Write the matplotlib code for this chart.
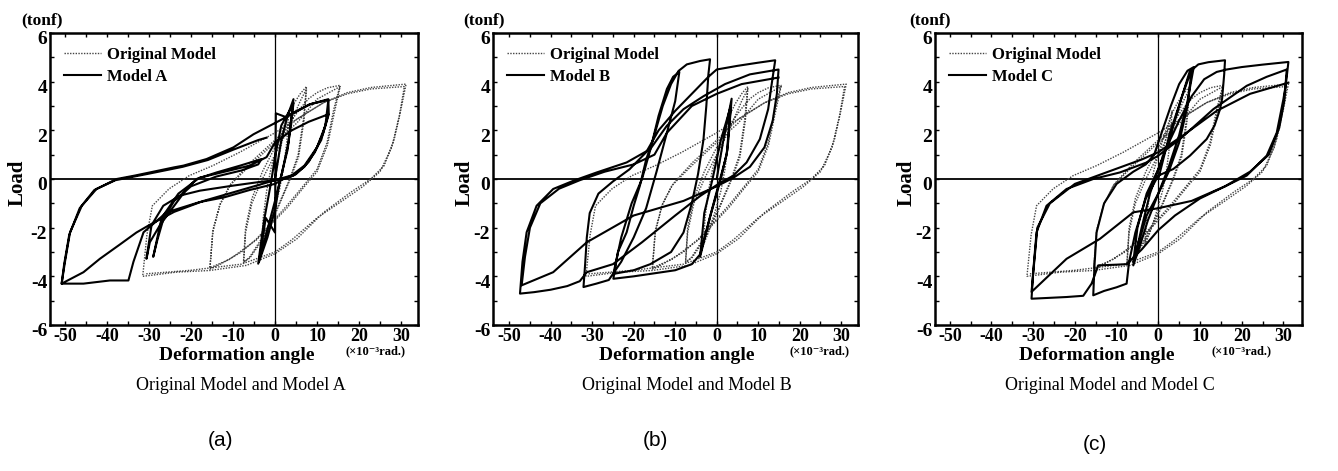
import matplotlib
matplotlib.use("Agg")
import matplotlib.pyplot as plt
from matplotlib.lines import Line2D
from matplotlib.ticker import MultipleLocator
import matplotlib.transforms as mtransforms

plt.rcParams["axes.unicode_minus"] = False

# ---------------- data ----------------
x_ticks = [-50, -40, -30, -20, -10, 0, 10, 20, 30]
y_ticks = [-6, -4, -2, 0, 2, 4, 6]
panel_letters = ["(a)", "(b)", "(c)"]
model_names = ["Model A", "Model B", "Model C"]

orig_x = [0, 1, 2.2, 3.3, 2.8, 2.0, 1.0, -0.5, -2, -3.2, -2.8, -2.0, -1, 0.5, 2, 3.3,
          4.5, 6, 7.5, 6.8, 5.5, 3.5, 0.5, -3, -6, -7.5, -7, -5.5, -3, 0, 3, 6, 7.5,
          6.9, 5.6, 3.4, 0.4, -3, -6, -7.5,
          -7, -5.5, -3, 0, 3, 6, 8, 10, 12.5, 15.5,
          14, 12.4, 10, 6.8, 2.8, 0, -4.4, -8, -10.8, -13, -15.5,
          -14.8, -13.2, -10.8, -6, 0, 5.2, 10, 15.5,
          14.1, 12.5, 10, 6.8, 2.8, 0, -4.4, -10.8, -15.5,
          -14.8, -13, -10.5, -6, 0, 5.2, 11.6, 17.2, 22.8, 31.2,
          30, 28.4, 26, 22.8, 18, 11.6, 5.2, 0, -6.8, -15.6, -23.6, -31.5,
          -30.5, -29.2, -25.2, -20.4, -14.8, -8.4, 0, 5.2, 11.6, 17.2, 22.8, 30.8,
          29.6, 27.8, 25, 21, 16, 10, 4, 0, -8, -20, -31]
orig_y = [0, 1.0, 2.0, 2.8, 1.5, 0.4, -0.5, -1.4, -2.2, -2.7, -1.6, -0.5, 0.4, 1.3, 2.1, 2.7,
          3.1, 3.5, 3.8, 2.5, 1.0, 0, -1.2, -2.4, -3.2, -3.45, -2.2, -1, 0, 1, 2.0, 3.2, 3.7,
          2.4, 0.9, -0.1, -1.3, -2.5, -3.25, -3.4,
          -2.0, -0.8, 0.3, 1.3, 2.2, 2.9, 3.3, 3.55, 3.75, 3.85,
          2.87, 1.5, 0.4, -0.27, -1.1, -1.64, -2.46, -3.0, -3.28, -3.5, -3.7,
          -2.19, -1.1, -0.27, 0.55, 1.5, 2.3, 3.28, 3.8,
          2.7, 1.4, 0.3, -0.35, -1.2, -1.7, -2.5, -3.3, -3.65,
          -2.1, -1.0, -0.2, 0.65, 1.6, 2.46, 3.14, 3.55, 3.76, 3.9,
          2.87, 1.64, 0.55, 0, -0.55, -1.37, -2.46, -3.07, -3.55, -3.76, -3.83, -4.0,
          -2.3, -1.1, -0.4, 0.14, 0.55, 1.1, 1.9, 2.46, 3.14, 3.5, 3.7, 3.8,
          2.6, 1.3, 0.3, -0.3, -0.9, -1.6, -2.5, -3.0, -3.5, -3.75, -3.9]

modelA_x = [0, 1.5, 3, 4.4, 3.2, 1.6, 0, -2, -4, -2.6, -1, 0.1, 1.5, 4.4, 3, 1, 0.1, -1.8, -3.8,
            -2.2, 0, 0.1, 0.2,
            2.5, 4.4, 8.3, 12.7, 12.8, 11.5, 9.5, 7, 4.4, 2, 0, -3.6, -9.9, -17.9, -22.6, -26.6, -29.4, -30.6,
            -29.8, -27.4, -24, -21, -18.7, -13.9, -8.3, -3.2,
            -4, -8, -14, -20, -24, -26.5, -28, -29,
            -27, -23, -18, -12, -6, -2, 0, 4, 8, 12.7,
            11, 8, 5, 2, 0, -6, -12, -18, -25.8, -31.3, -33.7, -34.9,
            -39.3, -45.6, -50.8,
            -50, -48.8, -46, -42.5, -37.7, -33.4, -29.8, -24, -21.8, -16.3, -9.9, -5.1, 0, 4.4, 8.3, 12.7,
            12, 10, 7, 4, 1, -4, -10, -17, -24, -30, -33, -37, -41.7, -45.6, -50.8,
            -50.2, -49, -46.5, -43, -38, -30, -22, -16, -10, -4, -2]
modelA_y = [0, 1.6, 2.6, 3.28, 1.5, 0.2, -0.9, -2.2, -3.48, -1.7, -0.2, 1.0, 2.2, 3.1, 1.2, -0.2, -1.2, -2.4, -3.4,
            -1.6, -2.2, 0.5, 2.7,
            2.55, 2.73, 3.07, 3.28, 2.66, 1.9, 1.1, 0.5, 0.14, 0.0, -0.05, -0.12, -0.27, -0.48, -0.68, -1.1, -1.9, -3.28,
            -2.6, -1.9, -1.1, -0.4, 0, 0.27, 0.55, 0.82,
            0.6, 0.35, 0.1, -0.3, -0.9, -1.6, -2.5, -3.2,
            -1.6, -0.6, 0.05, 0.3, 0.55, 0.9, 1.5, 2.0, 2.35, 2.66,
            1.6, 0.7, 0.2, 0.0, -0.2, -0.45, -0.75, -0.95, -1.37, -2.19, -3.4, -4.17,
            -4.17, -4.3, -4.3,
            -3.4, -2.19, -1.1, -0.41, 0, 0.14, 0.27, 0.48, 0.55, 0.82, 1.3, 1.84, 2.3, 2.7, 3.07, 3.25,
            2.2, 1.3, 0.55, 0.15, 0.0, -0.25, -0.55, -0.9, -1.35, -1.9, -2.2, -2.7, -3.28, -3.83, -4.3,
            -3.5, -2.3, -1.2, -0.45, -0.05, 0.22, 0.5, 0.78, 1.2, 1.6, 1.7]

modelB_x = [0, 1.5, 3.6, 2.6, 1, -1.5, -4, -3, -1, 1, 3.4, 2.4, 0.5, -2, -4,
            -6, -10, -16, -20, -24.9,
            -23.8, -21.7, -20, -18.5, -17, -15.3, -13, -11, -9.2, -7.2, -4, -1.6,
            -2.0, -2.5, -3.2, -4.5, -6, -8, -11, -16, -20, -24.9,
            -23, -20.5, -18, -16, -14, -12, -10.5, -9,
            -10, -12, -14.5, -17, -20, -23, -26, -29, -32.1,
            -31.7, -31.3, -30.6, -28.5, -25, -21, -17, -14, -10, -6, -2, 0, 5, 10, 14.1,
            13.3, 12.4, 10.4, 7.2, 4, 0, -4, -10, -18, -25, -31.3, -33, -36, -40, -44, -47.4,
            -46.8, -45.8, -43.4, -39.4, -34.5, -28.9, -21.7, -16, -12, -8, -3.2, 2, 8, 14.9,
            14.5, 13.5, 11.5, 8, 4, 0, -8, -20, -31.3, -39.4, -47,
            -46.2, -45, -42.5, -38, -33, -27, -20, -15, -12, -6, 0, 6, 14.9]
modelB_y = [0, 1.5, 3.3, 1.2, 0, -1.5, -3.2, -1.4, 0, 1.6, 3.0, 1.0, -0.2, -1.8, -3.1,
            -3.5, -3.75, -3.9, -4.0, -4.1,
            -3.0, -2.19, -1.1, -0.27, 0.8, 1.64, 3.0, 3.9, 4.44, 4.71, 4.85, 4.92,
            4.3, 3.0, 1.6, 0.2, -1.0, -2.2, -3.0, -3.5, -3.75, -3.9,
            -2.4, -1.0, 0, 1.2, 2.6, 3.7, 4.2, 4.4,
            3.2, 1.9, 0.3, -1.2, -2.4, -3.4, -4.15, -4.3, -4.44,
            -3.5, -2.4, -1.4, -0.6, -0.1, 0.4, 1.1, 2.0, 2.8, 3.5, 4.2, 4.5, 4.65, 4.78, 4.88,
            3.96, 2.87, 1.64, 0.68, 0.14, -0.25, -0.7, -1.5, -2.6, -3.5, -3.83, -4.2, -4.4, -4.55, -4.65, -4.71,
            -3.4, -2.19, -1.1, -0.41, -0.07, 0.27, 0.68, 1.23, 2.19, 2.87, 3.4, 3.9, 4.3, 4.5,
            3.5, 2.4, 1.3, 0.5, 0.05, -0.3, -0.9, -1.5, -2.6, -3.83, -4.37,
            -3.2, -2.0, -1.0, -0.4, -0.05, 0.3, 0.6, 1.0, 1.9, 3.0, 3.5, 3.9, 4.17]

modelC_x = [0, 2.8, 6, 8, 7, 5, 2.5, 0, -2.8, -5, -6, -5, -2.8, 0, 2.8, 5.5, 7.5,
            9.6, 12, 16,
            15.8, 15.3, 14.8, 13.5, 11.6, 7.6, 3.6, 0,
            -3, -5.5, -7, -7.6, -10, -13, -15.6,
            -15.3, -14.8, -13, -10, -6, -3, -1, 1, 3, 5, 7, 8.5,
            7, 5, 2.5, 0, -2.5, -4.5, -6,
            -4, -2, 0, 2, 5, 8, 11, 14, 16.4, 20, 25, 31.2,
            30.6, 30, 28.4, 26, 21.2, 16.4, 10, 4, 0, -4, -7.6, -10, -14.4, -16, -18, -22, -30.4,
            -30, -29.2, -26.8, -22, -15.6, -9.2, -2.8, 0, 5.2, 13.2, 21.2, 26, 30.8,
            30.2, 29, 26.5, 22, 16, 8, 0, -6, -14, -22, -30.4,
            -29.8, -29, -26, -20, -12, -4, 0, 6, 14, 22, 31.2]
modelC_y = [0, 1.9, 3.55, 4.5, 3.0, 1.5, 0.3, -0.6, -1.5, -2.8, -3.42, -2.0, -0.6, 0.4, 1.7, 3.3, 4.4,
            4.71, 4.8, 4.88,
            4.3, 3.3, 2.87, 2.2, 1.64, 0.96, 0.41, 0.14,
            -0.8, -2.2, -3.4, -4.3, -4.45, -4.6, -4.78,
            -3.55, -2.19, -1.0, -0.2, 0.3, 0.6, 1.0, 2.0, 3.0, 3.9, 4.45, 4.6,
            3.2, 1.8, 0.5, -0.6, -1.7, -2.8, -3.55,
            -2.0, -0.6, 0.4, 1.3, 2.4, 3.4, 4.1, 4.4, 4.5, 4.6, 4.7, 4.81,
            3.9, 3.28, 1.9, 0.96, 0.14, -0.27, -0.8, -1.5, -2.1, -2.9, -3.5, -3.52, -3.55, -4.3, -4.8, -4.85, -4.92,
            -3.8, -2.19, -1.1, -0.41, 0, 0.27, 0.68, 0.96, 1.64, 2.87, 3.83, 4.2, 4.5,
            3.2, 2.1, 1.0, 0.3, -0.3, -0.9, -1.2, -1.37, -2.46, -3.28, -4.64,
            -3.5, -2.0, -1.0, -0.2, 0.3, 0.8, 1.1, 1.8, 2.8, 3.5, 3.96]

model_xs = [modelA_x, modelB_x, modelC_x]
model_ys = [modelA_y, modelB_y, modelC_y]

# ---------------- layout ----------------
W, H = 1338, 471
fig = plt.figure(figsize=(W / 100, H / 100), dpi=100)
SERIF = ["Liberation Serif", "DejaVu Serif"]

def fx(px):
    return px / W

def fy(py):
    return 1 - py / H

axes_px = [(50, 418), (493, 858), (935, 1302)]
zero_px = [275, 716.7, 1158.3]
scale_px = [4.2, 4.15, 4.17]
top_px, bot_px = 33, 325

tonf_px = [42, 484, 930]
load_px = [18, 465, 907]
defo_px = [237, 677, 1097]
unit_px = [376, 819, 1241]
capt_px = [241, 687, 1110]
letter_px = [(220, 440), (655, 440), (1095, 445)]

for i in range(3):
    l, r = axes_px[i]
    ax = fig.add_axes([fx(l), fy(bot_px), (r - l) / W, (bot_px - top_px) / H])
    xl = (l - zero_px[i]) / scale_px[i]
    xr = (r - zero_px[i]) / scale_px[i]
    ax.set_xlim(xl, xr)
    ax.set_ylim(-6, 6)
    ax.axhline(0, color="black", lw=1.3, zorder=1)
    ax.axvline(0, color="black", lw=0.9, zorder=1)
    ax.plot(orig_x, orig_y, color="#444444", lw=1.0, ls=(0, (1, 1)), zorder=2)
    ax.plot(model_xs[i], model_ys[i], color="black", lw=1.5, zorder=3)

    ax.set_xticks(x_ticks)
    ax.set_yticks(y_ticks)
    ax.xaxis.set_minor_locator(MultipleLocator(5))
    ax.yaxis.set_minor_locator(MultipleLocator(1))
    ax.tick_params(which="both", direction="in", top=True, right=True, length=3, width=1)
    ax.tick_params(axis="x", pad=2.5)
    ax.tick_params(axis="y", pad=2)
    for lab in ax.get_xticklabels():
        lab.set_fontfamily(SERIF)
        lab.set_fontweight("bold")
        lab.set_fontsize(13)
    for lab in ax.get_yticklabels():
        lab.set_fontfamily(SERIF)
        lab.set_fontweight("bold")
        lab.set_fontsize(14)
    off = mtransforms.ScaledTranslation(0, -5 / 100, fig.dpi_scale_trans)
    for lab in ax.get_yticklabels():
        lab.set_transform(lab.get_transform() + off)
    for sp in ax.spines.values():
        sp.set_linewidth(1.8)

    handles = [Line2D([], [], color="#444444", lw=1.0, ls=(0, (1, 1))),
               Line2D([], [], color="black", lw=1.5)]
    ax.legend(handles, ["Original Model", model_names[i]], loc="upper left",
              bbox_to_anchor=(0.0, 1.0), frameon=False, handlelength=2.2,
              handletextpad=0.35, labelspacing=0.35, borderaxespad=0.45,
              prop={"family": SERIF, "weight": "bold", "size": 12})

    fig.text(fx(tonf_px[i]), fy(20), "(tonf)", ha="center", va="center",
             family=SERIF, weight="bold", fontsize=12.5)
    fig.text(fx(load_px[i]), fy(183), "Load", ha="center", va="center", rotation=90,
             family=SERIF, weight="bold", fontsize=15)
    fig.text(fx(defo_px[i]), fy(355), "Deformation angle", ha="center", va="center",
             family=SERIF, weight="bold", fontsize=14)
    fig.text(fx(unit_px[i]), fy(351), "(×10⁻³rad.)", ha="center", va="center",
             family=SERIF, weight="bold", fontsize=9)
    fig.text(fx(capt_px[i]), fy(385), "Original Model and " + model_names[i], ha="center",
             va="center", family=SERIF, fontsize=13)
    fig.text(fx(letter_px[i][0]), fy(letter_px[i][1]), panel_letters[i], ha="center",
             va="center", family=["Liberation Sans", "DejaVu Sans"], fontsize=15)

fig.savefig("out.png", dpi=100)
